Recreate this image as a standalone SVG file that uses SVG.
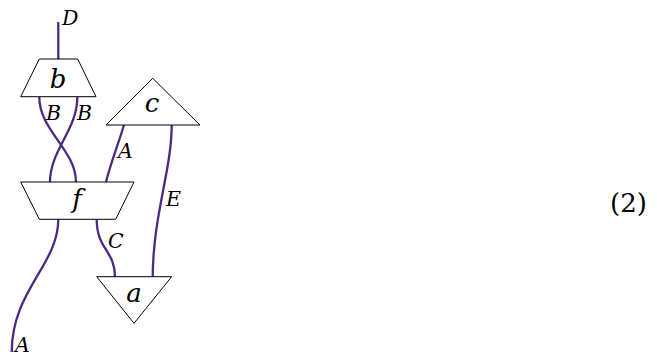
<svg xmlns="http://www.w3.org/2000/svg" width="657" height="356" viewBox="0 0 657 356">
<style>
.box{fill:#fff;stroke:#000;stroke-width:1}
.w{fill:none;stroke:#4b2a85;stroke-width:2.3}
</style>
<rect width="657" height="356" fill="#fff"/>
<g id="connectors">
<path class="w" d="M58.3,22 L58.3,59"/>
<path class="w" d="M39.3,97 C39,130 76,150 76,182"/>
<path class="w" d="M77.3,97 C77.5,130 50,150 50,182"/>
<path class="w" d="M124,125 C118,145 110,165 106,182"/>
<path class="w" d="M171.7,125 C171.7,170 153,215 152.7,277"/>
<path class="w" d="M96.7,219.3 C96.7,250 115,250 115,277"/>
<path class="w" d="M58.3,219.3 C58.3,265 12,290 11.7,352"/>
</g>
<g font-family="DejaVu Serif, serif" font-style="italic" font-size="26" text-anchor="middle">
<g id="node-b">
<polygon class="box" points="39.3,59 77.7,59 96,96.7 20.7,96.7"/>
<text x="58" y="88">b</text>
</g>
<g id="node-c">
<polygon class="box" points="152.7,78.3 200,125 106,125"/>
<text x="152" y="112">c</text>
</g>
<g id="node-f">
<polygon class="box" points="20.7,182 134,182 115.7,219.3 39.3,219.3"/>
<text x="77" y="208">f</text>
</g>
<g id="node-a">
<polygon class="box" points="96.7,276.7 171.7,276.7 134,323.3"/>
<text x="134" y="302">a</text>
</g>
</g>
<g id="labels" font-family="DejaVu Serif, serif" font-style="italic" font-size="20.5">
<text x="62" y="25">D</text>
<text x="46" y="120">B</text>
<text x="77" y="120">B</text>
<text x="118" y="158">A</text>
<text x="166" y="206">E</text>
<text x="108" y="248">C</text>
<text x="15" y="352">A</text>
<text x="610" y="212" font-style="normal" font-size="26">(2)</text>
</g>
</svg>
